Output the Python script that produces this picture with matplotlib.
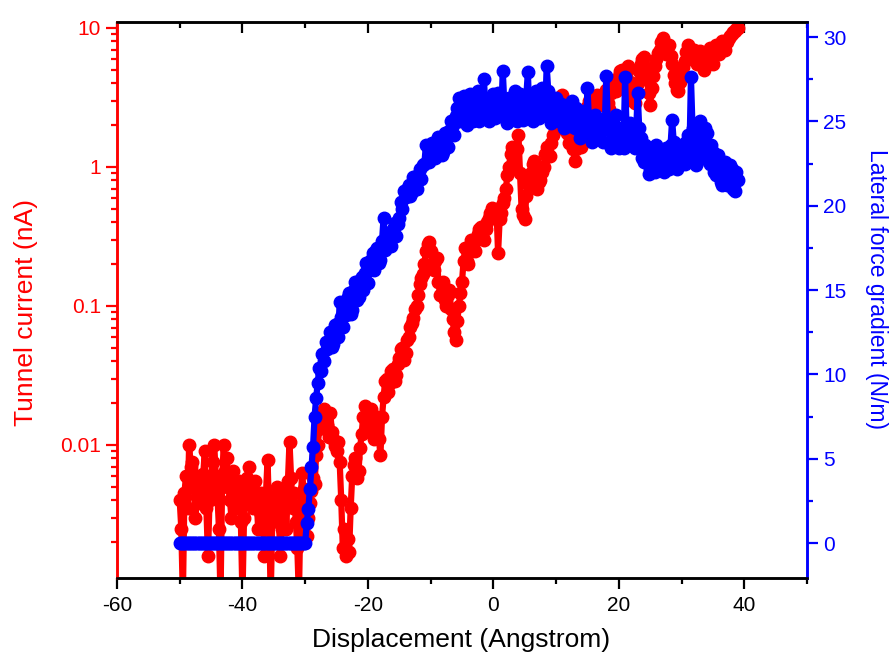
import numpy as np
import matplotlib
matplotlib.use("Agg")
import matplotlib.pyplot as plt
from matplotlib.ticker import MultipleLocator, LogLocator, NullFormatter, FixedLocator

plt.rcParams['font.family'] = ['Liberation Sans', 'DejaVu Sans']
plt.rcParams['axes.unicode_minus'] = False

# Tunnel current (nA), one row per Angstrom (0.25 A steps), from -50 to 39
current = [
    0.004, 0.0025, 0.0008, 0.0045,    # -50
    0.006, 0.0035, 0.010, 0.007,      # -49
    0.0075, 0.005, 0.003, 0.0042,     # -48
    0.006, 0.0038, 0.0045, 0.0062,    # -47
    0.009, 0.0035, 0.0016, 0.004,     # -46
    0.0055, 0.0075, 0.010, 0.006,     # -45
    0.0045, 0.0025, 0.0008, 0.005,    # -44
    0.010, 0.0065, 0.008, 0.005,      # -43
    0.004, 0.003, 0.0065, 0.0048,     # -42
    0.0035, 0.0052, 0.0055, 0.0028,   # -41
    0.0008, 0.003, 0.0045, 0.0058,    # -40
    0.007, 0.004, 0.0048, 0.0035,     # -39
    0.0055, 0.0042, 0.0025, 0.0033,   # -38
    0.0045, 0.003, 0.0016, 0.0045,    # -37
    0.0078, 0.0032, 0.0008, 0.0028,   # -36
    0.0042, 0.0034, 0.005, 0.0038,    # -35
    0.0016, 0.0025, 0.0037, 0.0045,   # -34
    0.0025, 0.0055, 0.0105, 0.0058,   # -33
    0.0035, 0.0045, 0.0028, 0.0018,   # -32
    0.0008, 0.0035, 0.0063, 0.0048,   # -31
    0.0042, 0.0022, 0.0030, 0.0038,   # -30
    0.0047, 0.0058, 0.0052, 0.0085,   # -29
    0.010, 0.013, 0.017, 0.0135,      # -28
    0.018, 0.015, 0.014, 0.0115,      # -27
    0.017, 0.0125, 0.011, 0.0098,     # -26
    0.009, 0.0105, 0.0075, 0.004,     # -25
    0.0018, 0.0025, 0.0016, 0.0021,   # -24
    0.0017, 0.0035, 0.006, 0.0072,    # -23
    0.008, 0.0058, 0.0065, 0.0095,    # -22
    0.012, 0.016, 0.019, 0.015,       # -21
    0.014, 0.0175, 0.018, 0.012,      # -20
    0.011, 0.0145, 0.016, 0.011,      # -19
    0.0085, 0.016, 0.022, 0.029,      # -18
    0.030, 0.024, 0.028, 0.034,       # -17
    0.035, 0.029, 0.032, 0.038,       # -16
    0.042, 0.049, 0.050, 0.041,       # -15
    0.046, 0.057, 0.060, 0.071,       # -14
    0.075, 0.082, 0.095, 0.10,        # -13
    0.12, 0.145, 0.16, 0.17,          # -12
    0.20, 0.25, 0.28, 0.29,           # -11
    0.25, 0.20, 0.18, 0.21,           # -10
    0.22, 0.15, 0.12, 0.145,          # -9
    0.15, 0.11, 0.10, 0.12,           # -8
    0.13, 0.095, 0.08, 0.065,         # -7
    0.057, 0.078, 0.10, 0.125,        # -6
    0.15, 0.21, 0.26, 0.21,           # -5
    0.20, 0.25, 0.30, 0.26,           # -4
    0.25, 0.30, 0.33, 0.36,           # -3
    0.37, 0.32, 0.30, 0.36,           # -2
    0.40, 0.43, 0.47, 0.51,           # -1
    0.45, 0.49, 0.50, 0.24,           # 0
    0.42, 0.47, 0.55, 0.60,           # 1
    0.70, 0.88, 1.0, 1.25,            # 2
    1.4, 1.15, 1.0, 1.35,             # 3
    1.7, 0.9, 0.5, 0.45,              # 4
    0.42, 0.62, 0.75, 0.80,           # 5
    0.9, 1.05, 1.1, 0.82,             # 6
    0.7, 0.78, 0.8, 0.92,             # 7
    1.0, 1.25, 1.4, 1.25,             # 8
    1.2, 1.5, 1.7, 1.85,              # 9
    2.2, 2.6, 2.8, 3.0,               # 10
    3.3, 2.7, 2.3, 1.75,              # 11
    1.5, 1.65, 1.8, 1.35,             # 12
    1.1, 1.35, 1.6, 1.45,             # 13
    1.4, 1.75, 2.0, 2.4,              # 14
    2.7, 3.0, 3.1, 2.7,               # 15
    2.6, 3.1, 3.3, 3.0,               # 16
    3.0, 2.85, 2.8, 3.3,              # 17
    3.6, 2.9, 2.6, 3.4,               # 18
    4.0, 3.6, 3.5, 4.1,               # 19
    4.5, 4.9, 5.0, 4.4,               # 20
    4.2, 4.9, 5.3, 4.1,               # 21
    3.5, 3.0, 2.9, 3.5,               # 22
    4.0, 4.9, 5.5, 6.0,               # 23
    6.2, 5.2, 4.5, 3.4,               # 24
    2.8, 3.7, 4.5, 5.3,               # 25
    6.0, 6.6, 7.0, 7.9,               # 26
    8.5, 7.2, 6.5, 7.1,               # 27
    7.5, 6.3, 5.5, 4.6,               # 28
    4.0, 3.6, 3.5, 4.1,               # 29
    4.5, 5.2, 5.8, 6.7,               # 30
    7.5, 6.7, 6.3, 6.7,               # 31
    7.0, 6.1, 5.5, 6.2,               # 32
    6.8, 5.7, 5.0, 5.6,               # 33
    6.0, 6.7, 7.2, 6.2,               # 34
    5.5, 6.6, 7.5, 6.9,               # 35
    6.5, 7.3, 8.0, 7.4,               # 36
    7.0, 7.9, 8.5, 8.7,               # 37
    9.0, 9.4, 9.5, 9.9,               # 38
    10.0,                             # 39
]

# Lateral force gradient (N/m), same displacement sampling
gradient = [0.0] * 80 + [           # -50 ... -30.25
    0.0, 1.2, 2.0, 3.2,               # -30
    4.5, 5.7, 7.5, 8.6,               # -29
    9.5, 10.4, 10.2, 11.2,            # -28
    10.8, 11.9, 11.5, 12.0,           # -27
    12.5, 11.6, 11.8, 12.9,           # -26
    13.0, 12.2, 14.3, 13.4,           # -25
    12.8, 14.0, 13.5, 14.6,           # -24
    14.8, 13.6, 13.8, 15.0,           # -23
    15.5, 14.4, 14.6, 15.6,           # -22
    15.8, 15.0, 16.0, 16.6,           # -21
    15.4, 16.2, 16.8, 17.2,           # -20
    16.2, 17.4, 17.5, 16.6,           # -19
    16.8, 17.9, 19.3, 17.4,           # -18
    17.6, 18.4, 18.0, 17.6,           # -17
    18.6, 19.0, 18.2, 18.9,           # -16
    19.3, 20.2, 19.8, 20.9,           # -15
    20.5, 21.0, 21.2, 20.6,           # -14
    20.8, 21.7, 21.5, 21.0,           # -13
    21.8, 22.2, 21.6, 22.4,           # -12
    22.5, 23.6, 23.5, 22.6,           # -11
    22.8, 23.7, 23.6, 22.8,           # -10
    23.0, 24.1, 23.9, 23.0,           # -9
    23.2, 24.3, 24.0, 23.5,           # -8
    24.4, 25.0, 24.8, 24.2,           # -7
    25.3, 25.8, 26.4, 25.0,           # -6
    25.6, 26.5, 26.0, 24.8,           # -5
    25.2, 26.6, 26.3, 25.0,           # -4
    25.6, 26.2, 26.8, 25.0,           # -3
    25.4, 26.4, 27.5, 25.6,           # -2
    26.0, 25.0, 25.3, 26.2,           # -1
    26.6, 25.2, 25.6, 26.7,           # 0
    26.2, 25.3, 28.0, 26.0,           # 1
    25.8, 24.9, 26.4, 25.6,           # 2
    25.2, 26.2, 26.8, 25.0,           # 3
    25.5, 26.6, 26.2, 25.1,           # 4
    25.8, 26.5, 27.9, 25.4,           # 5
    26.0, 25.0, 25.6, 26.8,           # 6
    26.4, 25.2, 25.8, 27.0,           # 7
    26.6, 25.4, 28.3, 26.8,           # 8
    26.0, 24.9, 25.2, 26.2,           # 9
    26.4, 25.3, 25.0, 26.0,           # 10
    25.8, 24.6, 24.8, 25.9,           # 11
    25.6, 24.7, 26.2, 25.2,           # 12
    24.6, 25.8, 25.4, 24.0,           # 13
    24.2, 25.2, 25.6, 24.4,           # 14
    27.0, 25.0, 24.8, 23.8,           # 15
    24.0, 25.4, 25.2, 24.0,           # 16
    24.4, 25.0, 23.8, 24.6,           # 17
    27.7, 25.0, 24.6, 23.4,           # 18
    23.6, 24.8, 25.4, 24.0,           # 19
    23.4, 24.6, 24.2, 23.4,           # 20
    27.6, 24.4, 23.8, 24.9,           # 21
    24.6, 23.6, 23.4, 24.2,           # 22
    26.7, 24.6, 24.0, 22.8,           # 23
    22.6, 23.6, 23.2, 21.9,           # 24
    22.2, 23.4, 23.0, 22.0,           # 25
    23.6, 23.0, 22.4, 23.2,           # 26
    22.8, 22.0, 23.4, 22.6,           # 27
    22.2, 23.6, 25.1, 23.8,           # 28
    23.0, 22.2, 22.4, 23.4,           # 29
    23.6, 22.6, 22.5, 23.8,           # 30
    24.2, 23.0, 27.6, 24.6,           # 31
    23.2, 22.4, 22.6, 24.0,           # 32
    25.0, 23.2, 23.4, 24.6,           # 33
    24.3, 22.8, 22.5, 23.6,           # 34
    23.2, 22.0, 21.8, 23.0,           # 35
    22.4, 21.4, 21.2, 22.2,           # 36
    22.6, 21.2, 21.6, 22.4,           # 37
    22.2, 21.0, 20.9, 22.0,           # 38
    21.5,                             # 39
]

x_current = np.linspace(-50, 39, len(current))
x_gradient = np.linspace(-50, 39, len(gradient))

RED = '#ff0000'
BLUE = '#0000ff'

fig = plt.figure(figsize=(8.89, 6.62), dpi=100)
ax = fig.add_axes([117 / 889, 1 - 578 / 662, (807 - 117) / 889, (578 - 22) / 662])
ax2 = ax.twinx()

ax.plot(x_current, current, color=RED, lw=4.5, marker='o', ms=9,
        mec=RED, mfc=RED, solid_joinstyle='round', solid_capstyle='round')
ax2.plot(x_gradient, gradient, color=BLUE, lw=4.5, marker='o', ms=9,
         mec=BLUE, mfc=BLUE, solid_joinstyle='round', solid_capstyle='round')

ax.set_yscale('log')
ax.set_xlim(-60, 50)
ax.set_ylim(10 ** -2.957, 10 ** 1.043)
ax2.set_ylim(-2.07, 30.89)

TICK_FS = 15

# x axis
ax.xaxis.set_major_locator(MultipleLocator(20))
ax.xaxis.set_minor_locator(MultipleLocator(10))
ax.tick_params(axis='x', which='both', direction='out', top=True,
               labelsize=TICK_FS, width=1.6, colors='black', pad=5)
ax.tick_params(axis='x', which='major', length=8)
ax.tick_params(axis='x', which='minor', length=4.5)
# top ticks point into the plot
for t in ax.xaxis.get_major_ticks() + ax.xaxis.get_minor_ticks():
    t.tick2line.set_marker(3)
ax.set_xlabel('Displacement (Angstrom)', fontsize=19)
ax.xaxis.set_label_coords(0.4986, -0.1115)
ax.xaxis.label.set_va('center')

# left (log) axis
ax.yaxis.set_major_locator(FixedLocator([0.01, 0.1, 1, 10]))
ax.yaxis.set_minor_locator(LogLocator(base=10, subs=np.arange(2, 10), numticks=20))
ax.yaxis.set_minor_formatter(NullFormatter())
ax.set_yticklabels(['0.01', '0.1', '1', '10'])
ax.tick_params(axis='y', which='both', colors=RED, labelcolor=RED,
               labelsize=TICK_FS, width=1.6)
ax.tick_params(axis='y', which='major', length=8)
ax.tick_params(axis='y', which='minor', length=4.5)
ax.set_ylabel('Tunnel current (nA)', color=RED, fontsize=19)
ax.yaxis.set_label_coords(-0.1326, 0.477)
ax.yaxis.label.set_va('center')

# right (linear) axis
ax2.yaxis.set_major_locator(MultipleLocator(5))
ax2.yaxis.set_minor_locator(MultipleLocator(2.5))
ax2.tick_params(axis='y', which='both', colors=BLUE, labelcolor=BLUE,
                labelsize=TICK_FS, width=1.6)
ax2.tick_params(axis='y', which='major', length=8)
ax2.tick_params(axis='y', which='minor', length=4.5)
ax2.set_ylabel('Lateral force gradient (N/m)', color=BLUE, fontsize=16.5,
               rotation=270)
ax2.yaxis.set_label_coords(1.100, 0.52)
ax2.yaxis.label.set_va('center')

for a in (ax, ax2):
    for s in a.spines.values():
        s.set_linewidth(1.8)
    a.spines['top'].set_color('black')
    a.spines['bottom'].set_color('black')
    a.spines['left'].set_color(RED)
    a.spines['right'].set_color(BLUE)

fig.savefig('out.png', dpi=100)
